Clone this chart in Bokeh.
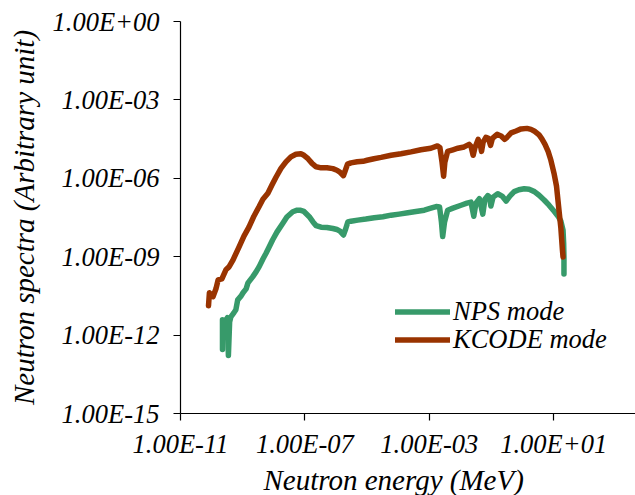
import numpy as np
from bokeh.plotting import figure
from bokeh.models import FixedTicker, CustomJSTickFormatter, Legend, LegendItem, Title
from bokeh.embed import file_html
from bokeh.resources import INLINE

# Spectra recorded in decades: log10 of energy (MeV) and log10 of flux (arb. unit)
kcode_energy_exp = [
    -10.10, -10.07, -9.955, -9.86, -9.79, -9.67, -9.54, -9.44, -9.31, -9.12,
    -8.96, -8.80, -8.64, -8.48, -8.35, -8.19, -8.06, -7.93, -7.77, -7.61,
    -7.45, -7.29, -7.13, -7.03, -6.90, -6.77, -6.64, -6.48, -6.29, -6.10,
    -5.97, -5.87, -5.76, -5.71, -5.63, -5.52, -5.32, -5.13, -5.00, -4.78,
    -4.55, -4.23, -3.91, -3.59, -3.27, -2.95, -2.74, -2.66, -2.59, -2.54,
    -2.50, -2.41, -2.24, -2.08, -1.88, -1.72, -1.66, -1.59, -1.53, -1.43,
    -1.37, -1.32, -1.27, -1.18, -1.10, -1.03, -0.97, -0.82, -0.69, -0.58,
    -0.50, -0.37, -0.21, -0.05, 0.14, 0.27, 0.40, 0.53, 0.62, 0.72,
    0.82, 0.91, 1.01, 1.09, 1.17, 1.23, 1.28, 1.30,
]
kcode_flux_exp = [
    -10.88, -10.38, -10.53, -10.23, -9.89, -9.85, -9.50, -9.39, -9.12, -8.63,
    -8.21, -7.87, -7.45, -7.10, -6.80, -6.57, -6.26, -5.96, -5.62, -5.37,
    -5.18, -5.08, -5.06, -5.12, -5.25, -5.43, -5.56, -5.60, -5.60, -5.63,
    -5.69, -5.77, -5.90, -5.73, -5.46, -5.41, -5.37, -5.35, -5.31, -5.25,
    -5.20, -5.12, -5.06, -4.99, -4.91, -4.85, -4.76, -4.82, -5.39, -5.92,
    -5.39, -4.97, -4.91, -4.85, -4.80, -4.70, -4.78, -5.12, -4.82, -4.51,
    -4.66, -4.97, -4.62, -4.43, -4.47, -4.74, -4.47, -4.32, -4.38, -4.51,
    -4.43, -4.26, -4.19, -4.11, -4.09, -4.13, -4.21, -4.34, -4.49, -4.70,
    -4.97, -5.31, -5.81, -6.30, -7.22, -7.90, -8.74, -9.01,
]
nps_energy_exp = [
    -9.65, -9.65, -9.57, -9.49, -9.46, -9.42, -9.38, -9.28, -9.22, -9.16,
    -9.05, -8.99, -8.89, -8.83, -8.68, -8.57, -8.47, -8.35, -8.25, -8.15,
    -8.04, -7.90, -7.71, -7.58, -7.39, -7.25, -7.16, -7.03, -6.86, -6.74,
    -6.64, -6.48, -6.29, -6.10, -5.97, -5.87, -5.76, -5.69, -5.62, -5.52,
    -5.30, -5.04, -4.77, -4.49, -4.23, -3.97, -3.69, -3.43, -3.16, -2.95,
    -2.78, -2.67, -2.61, -2.57, -2.51, -2.41, -2.24, -1.98, -1.79, -1.66,
    -1.57, -1.50, -1.39, -1.28, -1.21, -1.12, -1.06, -1.02, -0.95, -0.80,
    -0.66, -0.53, -0.41, -0.27, -0.12, 0.05, 0.21, 0.38, 0.53, 0.70,
    0.85, 1.02, 1.14, 1.23, 1.30, 1.32, 1.33, 1.33,
]
nps_flux_exp = [
    -12.55, -11.41, -11.49, -11.33, -12.78, -11.49, -11.30, -11.14, -11.03, -10.65,
    -10.50, -10.38, -10.23, -10.00, -9.77, -9.58, -9.38, -9.09, -8.87, -8.63,
    -8.36, -8.06, -7.72, -7.48, -7.28, -7.22, -7.22, -7.27, -7.47, -7.67,
    -7.81, -7.87, -7.88, -7.92, -7.96, -8.02, -8.17, -7.94, -7.67, -7.64,
    -7.60, -7.56, -7.51, -7.47, -7.41, -7.37, -7.32, -7.27, -7.22, -7.14,
    -7.08, -7.10, -7.67, -8.23, -7.67, -7.22, -7.14, -7.03, -6.95, -6.91,
    -7.45, -6.95, -6.78, -7.37, -6.80, -6.66, -6.72, -7.06, -6.72, -6.59,
    -6.68, -6.87, -6.68, -6.51, -6.44, -6.40, -6.42, -6.51, -6.65, -6.84,
    -7.03, -7.27, -7.45, -7.64, -7.98, -8.48, -9.05, -9.66,
]

x_ticks = [1e-11, 1e-7, 1e-3, 1e1]
y_ticks = [1e-15, 1e-12, 1e-9, 1e-6, 1e-3, 1e0]
series_labels = ["NPS mode", "KCODE mode"]
x_title = "Neutron energy (MeV)"
y_title = "Neutron spectra (Arbitrary unit)"

NPS_COLOR = "#379a6a"
KCODE_COLOR = "#993300"
SERIF = "Liberation Serif"

p = figure(
    width=635, height=495,
    x_axis_type="log", y_axis_type="log",
    x_range=(1e-11, 10 ** 3.63), y_range=(1e-15, 1e0),
    output_backend="svg", toolbar_location=None,
    min_border_left=180, min_border_right=0,
    min_border_top=21, min_border_bottom=81,
)
p.outline_line_color = None
p.xgrid.visible = False
p.ygrid.visible = False
p.background_fill_color = "white"
p.border_fill_color = "white"

sci_fmt = CustomJSTickFormatter(code="""
const e = Math.round(Math.log10(tick));
const sign = e < 0 ? "-" : "+";
const a = Math.abs(e);
return "1.00E" + sign + (a < 10 ? "0" + a : "" + a);
""")

for ax, ticks in ((p.xaxis[0], x_ticks), (p.yaxis[0], y_ticks)):
    ax.ticker = FixedTicker(ticks=ticks)
    ax.formatter = sci_fmt
    ax.minor_tick_line_color = None
    ax.major_tick_in = 0
    ax.major_tick_out = 7
    ax.axis_line_color = "black"
    ax.axis_line_width = 1.2
    ax.major_tick_line_color = "black"
    ax.major_tick_line_width = 1.2
    ax.major_label_text_font = SERIF
    ax.major_label_text_font_style = "italic"
    ax.major_label_text_font_size = "26.5px"
    ax.major_label_text_color = "black"

p.xaxis[0].major_label_standoff = 8
p.yaxis[0].major_label_standoff = 14

p.yaxis[0].axis_label = y_title
p.yaxis[0].axis_label_text_font = SERIF
p.yaxis[0].axis_label_text_font_style = "italic"
p.yaxis[0].axis_label_text_font_size = "29px"
p.yaxis[0].axis_label_text_color = "black"
p.yaxis[0].axis_label_standoff = 10

# x-axis title, left-aligned and pushed in from the frame's left edge
p.add_layout(Title(
    text=x_title, align="left", offset=83, standoff=0,
    text_font=SERIF, text_font_style="italic", text_font_size="29px",
    text_color="black",
), "below")

nps_e = 10 ** np.array(nps_energy_exp)
nps_f = 10 ** np.array(nps_flux_exp)
kc_e = 10 ** np.array(kcode_energy_exp)
kc_f = 10 ** np.array(kcode_flux_exp)

r_nps = p.line(nps_e, nps_f, line_color=NPS_COLOR, line_width=5.5,
               line_cap="round", line_join="round")
r_kc = p.line(kc_e, kc_f, line_color=KCODE_COLOR, line_width=5.5,
              line_cap="round", line_join="round")

# one single-row legend per series so the rows sit tightly together
legend_style = dict(
    border_line_color=None, background_fill_alpha=0,
    padding=0, margin=0, spacing=0,
    glyph_width=55, glyph_height=27, label_height=27, label_standoff=3,
    label_text_font=SERIF, label_text_font_style="italic",
    label_text_font_size="26.5px", label_text_color="black",
)
for label, rend, loc in ((series_labels[0], r_nps, (215, 86)),
                         (series_labels[1], r_kc, (215, 58))):
    p.add_layout(Legend(items=[LegendItem(label=label, renderers=[rend])],
                        location=loc, **legend_style))

open("out.html", "w").write(file_html(p, INLINE))
